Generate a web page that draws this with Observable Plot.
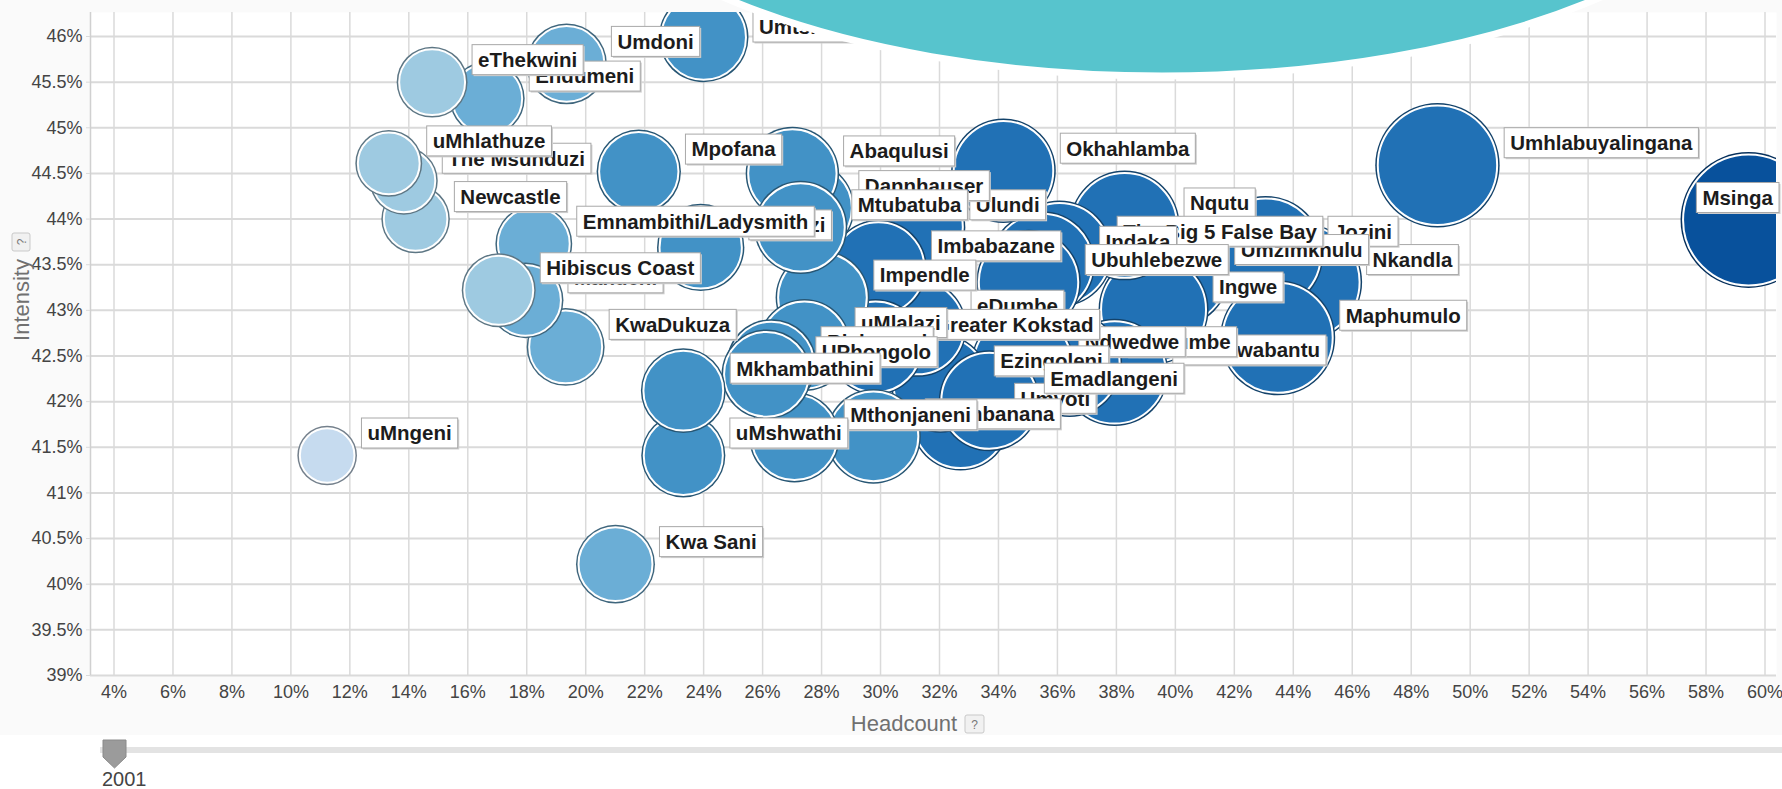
<!DOCTYPE html>
<html><head><meta charset="utf-8">
<script src="https://cdn.jsdelivr.net/npm/d3@7"></script>
<script src="https://cdn.jsdelivr.net/npm/@observablehq/plot@0.6"></script>
<style>
html,body{margin:0;padding:0;background:#fff;}
#wrap{position:relative;width:1782px;height:789px;overflow:hidden;font-family:"Liberation Sans",Arial,sans-serif;}
#chart svg{display:block;}
#slider{display:block;}
</style></head><body><div id="wrap"><div id="chart"></div><svg id="slider" width="1782" height="54"></svg></div>
<script>
// ---- data (2001), listed in the chart's drawing order (back to front) ----
const names = ["Msinga","Umhlabuyalingana","Nkandla","Jozini","Maphumulo","Umzimkhulu","Ingwe","Nqutu","uMuziwabantu","The Big 5 False Bay","Umzumbe","Indaka","Okhahlamba","Ubuhlebezwe","Ndwedwe","Ulundi","Umvoti","Ezingoleni","Emadlangeni","eDumbe","Imbabazane","Greater Kokstad","Ntambanana","Dannhauser","Impendle","Abaqulusi","Mtubatuba","uMlalazi","Mthonjaneni","Richmond","UPhongolo","Umtshezi","Mfolozi","uMshwathi","Mkhambathini","Mpofana","Umdoni","Kwa Sani","KwaDukuza","Emnambithi/Ladysmith","Mandeni","Endumeni","Hibiscus Coast","eThekwini","Newcastle","The Msunduzi","uMhlathuze","uMngeni"];
const headcount = [59.44,48.89,44.35,43.06,43.47,39.97,39.26,38.28,37.94,36.07,36.41,35.49,34.17,35.02,34.82,31.19,32.71,32.03,33.69,31.25,29.93,29.83,29.76,27.52,28.03,27.01,27.29,27.42,27.08,26.30,26.13,24.00,23.90,23.31,23.31,21.80,19.35,21.01,19.32,18.24,17.96,16.66,17.05,14.79,14.23,13.83,13.32,11.23];
const intensity = [43.99,44.59,43.31,43.62,42.70,43.42,43.01,43.93,42.32,43.62,42.41,43.51,44.53,43.31,42.41,43.91,41.79,42.20,42.01,42.81,43.46,42.60,41.62,44.12,43.14,44.50,43.91,42.62,41.61,42.41,42.30,45.99,43.69,41.41,42.12,44.52,45.70,40.22,42.60,43.73,43.11,45.32,43.22,45.50,44.00,44.42,44.61,41.41];
const xTicks = [4,6,8,10,12,14,16,18,20,22,24,26,28,30,32,34,36,38,40,42,44,46,48,50,52,54,56,58,60];
const yTicks = [39,39.5,40,40.5,41,41.5,42,42.5,43,43.5,44,44.5,45,45.5,46];
const xTitle = "Headcount", yTitle = "Intensity", year = "2001";
const blues = ["#c6dbef","#9ecae1","#6baed6","#4292c6","#2171b5","#08519c"];

// MPI = headcount x intensity drives both bubble size and colour
const data = names.map((name, i) => ({name, headcount: headcount[i], intensity: intensity[i], mpi: headcount[i] * intensity[i] / 100}));

const FONT = '"Liberation Sans", Arial, sans-serif';
const W = 1782, H = 735;
const xDomain = [3.203, 60.39], yDomain = [39, 46.263];

const plot = Plot.plot({
  width: W, height: H,
  marginLeft: 90, marginRight: 6, marginTop: 12, marginBottom: 60,
  style: {fontFamily: FONT, fontSize: "18px", color: "#444", background: "#fafafa", overflow: "visible"},
  x: {domain: xDomain, label: null},
  y: {domain: yDomain, label: null},
  r: {type: "sqrt", domain: [0, 26.2], range: [2, 68]},
  color: {type: "threshold", domain: [5.5, 7.5, 9.5, 12.5, 25], range: blues},
  marks: [
    Plot.frame({fill: "white", stroke: null}),
    Plot.gridX(xTicks, {stroke: "#dadada", strokeOpacity: 1, strokeWidth: 1.5}),
    Plot.gridY(yTicks, {stroke: "#dadada", strokeOpacity: 1, strokeWidth: 2}),
    Plot.ruleX([xDomain[0]], {stroke: "#d0d0d0", strokeWidth: 1.5}),
    Plot.dot(data, {x: "headcount", y: "intensity", r: "mpi", fill: "mpi", stroke: "white", strokeWidth: 2, clip: true, sort: null, className: "bubbles"}),
    Plot.axisX(xTicks, {tickSize: 0, tickPadding: 10, tickFormat: d => d + "%", fontSize: 18, fill: "#444"}),
    Plot.axisY(yTicks, {tickSize: 4, tickPadding: 4, stroke: "#dadada", tickFormat: d => d + "%", fontSize: 18, fill: "#444"})
  ]
});
document.getElementById("chart").append(plot);
const svg = d3.select(plot);

// double ring around every bubble (dark outline, white inner ring)
svg.selectAll("g.bubbles circle").each(function() {
  const c = d3.select(this);
  const R = +c.attr("r");
  const f = c.attr("fill");
  const outer = this.cloneNode();
  this.parentNode.insertBefore(outer, this);
  d3.select(outer).attr("fill", d3.color(f).darker(1.5).formatHex()).attr("stroke", "none");
  c.attr("r", Math.max(1, R - 2.5));
});

// labels in boxes, positioned through Plot's scales, same order as the bubbles
const sx = plot.scale("x"), sy = plot.scale("y"), sr = plot.scale("r");
const gL = svg.append("g").attr("font-family", FONT).attr("font-weight", "bold").attr("font-size", 20.5).attr("text-anchor", "start");
const plotTop = 12, plotRight = 1779;
for (const d of data) {
  const cx = sx.apply(d.headcount), cy = sy.apply(d.intensity), R = sr.apply(d.mpi);
  const g = gL.append("g");
  const shadow = g.append("rect");
  const rect = g.append("rect");
  const t = g.append("text").text(d.name).attr("fill", "#1c1c1c").attr("text-anchor", "start");
  const w = t.node().getComputedTextLength();
  const bw = w + 12, bh = 30;
  let left = cx + R + 5;
  if (left + bw > plotRight) left = plotRight - bw;
  let top = cy - 22 - bh / 2;
  if (top < plotTop) top = plotTop;
  shadow.attr("x", left + 1.5).attr("y", top + 1.5).attr("width", bw).attr("height", bh).attr("fill", "#cfcfcf");
  rect.attr("x", left).attr("y", top).attr("width", bw).attr("height", bh).attr("fill", "white").attr("stroke", "#a8a8a8").attr("stroke-width", 1);
  t.attr("x", left + 6).attr("y", top + bh / 2).attr("dy", "0.36em");
}

// axis titles with help boxes
svg.append("text").attr("x", 904).attr("y", 731).attr("text-anchor", "middle").attr("font-family", FONT).attr("font-size", 22).attr("fill", "#707070").text(xTitle);
svg.append("rect").attr("x", 965).attr("y", 715).attr("width", 19).attr("height", 18).attr("rx", 2).attr("fill", "#f1f1f1").attr("stroke", "#c9c9c9");
svg.append("text").attr("x", 974.5).attr("y", 728.5).attr("text-anchor", "middle").attr("font-family", FONT).attr("font-size", 12).attr("fill", "#777").text("?");
svg.append("text").attr("transform", "translate(29,300) rotate(-90)").attr("text-anchor", "middle").attr("font-family", FONT).attr("font-size", 22).attr("fill", "#707070").text(yTitle);
svg.append("rect").attr("x", 12).attr("y", 233).attr("width", 18).attr("height", 18).attr("rx", 2).attr("fill", "#f1f1f1").attr("stroke", "#c9c9c9");
svg.append("text").attr("transform", "translate(25.5,242) rotate(-90)").attr("text-anchor", "middle").attr("font-family", FONT).attr("font-size", 12).attr("fill", "#777").text("?");

// decorative slide shape overlapping the top of the chart
svg.append("ellipse").attr("cx", 1162).attr("cy", -200).attr("rx", 627).attr("ry", 276).attr("fill", "#57c4cd").attr("stroke", "#ffffff").attr("stroke-width", 7);

// time slider
const sl = d3.select("#slider");
sl.append("rect").attr("x", 100).attr("y", 12).attr("width", 1682).attr("height", 6).attr("fill", "#e3e3e3");
sl.append("path").attr("d", "M103,5H126V22L114.5,33L103,22Z").attr("fill", "#9b9b9b").attr("stroke", "#8a8a8a");
sl.append("text").attr("x", 102).attr("y", 51).attr("font-family", FONT).attr("font-size", 20).attr("fill", "#444").text(year);
</script></body></html>
